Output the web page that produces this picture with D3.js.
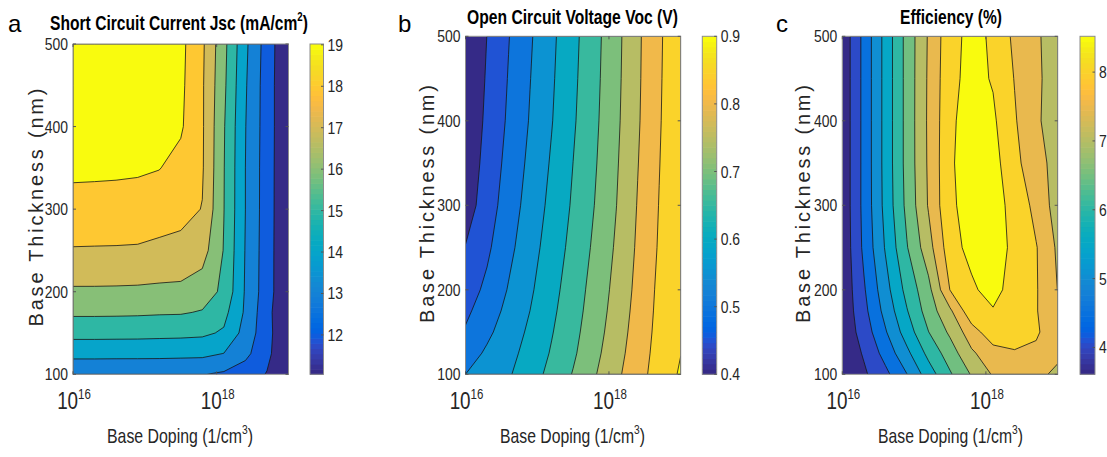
<!DOCTYPE html>
<html>
<head>
<meta charset="utf-8">
<script src="https://cdn.jsdelivr.net/npm/d3@7"></script>
<style>
  html, body { margin: 0; padding: 0; background: #fff; }
  svg { display: block; }
</style>
</head>
<body>
<svg id="fig" width="1107" height="457"></svg>
<script>
// ---------------------------------------------------------------------------
// Simulation grid: base doping (log10 of cm^-3) and base thickness (nm)
// ---------------------------------------------------------------------------
const dopingExp = [16.0, 16.3, 16.6, 16.9, 17.2, 17.5, 17.8, 18.1, 18.4, 18.7, 19.0];
const thickness = [100, 125, 150, 175, 200, 250, 300, 350, 400, 450, 500];

// Short circuit current Jsc (mA/cm^2); rows follow `thickness`, columns follow `dopingExp`
const jsc = [
  [13.10, 13.10, 13.09, 13.08, 13.07, 13.06, 13.04, 12.85, 12.50, 11.95, 11.05],
  [14.31, 14.31, 14.30, 14.30, 14.29, 14.26, 14.23, 13.98, 13.25, 12.25, 11.05],
  [15.31, 15.31, 15.30, 15.29, 15.26, 15.24, 15.18, 14.88, 13.62, 12.34, 11.05],
  [16.17, 16.17, 16.16, 16.14, 16.10, 16.08, 15.93, 15.30, 13.85, 12.30, 11.05],
  [16.86, 16.86, 16.85, 16.83, 16.79, 16.76, 16.49, 15.79, 13.90, 12.44, 11.05],
  [17.94, 17.93, 17.92, 17.90, 17.79, 17.72, 17.40, 15.95, 13.95, 12.45, 11.05],
  [18.61, 18.60, 18.60, 18.57, 18.46, 18.30, 17.97, 16.02, 14.00, 12.47, 11.05],
  [19.22, 19.20, 19.17, 19.13, 19.03, 18.70, 18.10, 16.04, 14.00, 12.48, 11.05],
  [19.25, 19.25, 19.24, 19.22, 19.17, 19.12, 18.12, 16.08, 14.03, 12.50, 11.05],
  [19.28, 19.28, 19.27, 19.25, 19.22, 19.20, 18.12, 16.20, 14.10, 12.50, 11.05],
  [19.30, 19.30, 19.30, 19.30, 19.28, 19.25, 18.17, 16.29, 14.20, 12.55, 11.05]
];

// Open circuit voltage Voc (V)
const voc = [
  [0.550, 0.5725, 0.5949, 0.6278, 0.6645, 0.7029, 0.746, 0.789, 0.8322, 0.8707, 0.906],
  [0.527, 0.5574, 0.5852, 0.6173, 0.6544, 0.6924, 0.7364, 0.7813, 0.8257, 0.8678, 0.899],
  [0.505, 0.540, 0.5742, 0.6089, 0.6468, 0.6857, 0.7288, 0.775, 0.8209, 0.8646, 0.897],
  [0.490, 0.525, 0.5634, 0.6002, 0.640, 0.680, 0.7227, 0.7694, 0.8167, 0.8621, 0.898],
  [0.477, 0.5105, 0.5533, 0.5927, 0.6337, 0.6751, 0.718, 0.7644, 0.813, 0.860, 0.899],
  [0.452, 0.491, 0.5371, 0.5806, 0.6225, 0.665, 0.7086, 0.756, 0.8071, 0.8548, 0.898],
  [0.425, 0.4756, 0.5245, 0.570, 0.6131, 0.6563, 0.7006, 0.7489, 0.8025, 0.8515, 0.897],
  [0.4167, 0.4667, 0.5155, 0.5613, 0.6052, 0.6502, 0.6948, 0.7442, 0.7982, 0.8483, 0.896],
  [0.411, 0.4595, 0.5074, 0.5534, 0.5976, 0.6438, 0.690, 0.7398, 0.7944, 0.8453, 0.895],
  [0.4069, 0.4548, 0.5026, 0.5488, 0.5933, 0.6398, 0.6867, 0.7371, 0.7925, 0.8436, 0.893],
  [0.403, 0.4505, 0.498, 0.5443, 0.5895, 0.6363, 0.684, 0.735, 0.7913, 0.8422, 0.891]
];

// Conversion efficiency (%)
const efficiency = [
  [3.61, 3.92, 4.37, 4.99, 5.75, 6.44, 7.04, 7.55, 7.62, 7.56, 7.45],
  [3.61, 4.05, 4.68, 5.38, 6.14, 6.75, 7.42, 7.81, 7.95, 7.88, 7.55],
  [3.62, 4.22, 4.95, 5.74, 6.49, 7.09, 7.78, 8.30, 8.25, 8.08, 7.62],
  [3.62, 4.35, 5.16, 5.97, 6.73, 7.41, 8.35, 8.45, 8.20, 8.03, 7.60],
  [3.62, 4.44, 5.31, 6.16, 6.85, 8.01, 8.40, 8.73, 8.21, 8.04, 7.49],
  [3.62, 4.60, 5.54, 6.47, 7.30, 8.28, 8.67, 8.70, 8.40, 8.03, 7.42],
  [3.63, 4.64, 5.65, 6.63, 7.54, 8.42, 8.68, 8.60, 8.42, 7.82, 7.30],
  [3.63, 4.64, 5.67, 6.67, 7.57, 8.42, 8.80, 8.68, 8.15, 7.65, 7.35],
  [3.63, 4.64, 5.67, 6.67, 7.58, 8.39, 8.77, 8.58, 8.05, 7.55, 7.33],
  [3.63, 4.64, 5.67, 6.67, 7.57, 8.36, 8.66, 8.46, 7.98, 7.58, 7.29],
  [3.63, 4.64, 5.67, 6.67, 7.55, 8.33, 8.64, 8.43, 7.89, 7.58, 7.22]
];

// Contour levels, colour limits and colourbar ticks
const jscLevels = [12, 13, 14, 15, 16, 17, 18, 19];
const vocLevels = [0.45, 0.50, 0.55, 0.60, 0.65, 0.70, 0.75, 0.80, 0.85, 0.90];
const effLevels = [4.0, 4.5, 5.0, 5.5, 6.0, 6.5, 7.0, 7.5, 8.0, 8.5];
const jscRange = [11.05, 19.02];
const vocRange = [0.40, 0.90];
const effRange = [3.61, 8.52];
const jscTicks = [12, 13, 14, 15, 16, 17, 18, 19];
const vocTicks = [0.4, 0.5, 0.6, 0.7, 0.8, 0.9];
const effTicks = [4, 5, 6, 7, 8];

// Axis ticks
const thicknessTicks = [100, 200, 300, 400, 500];
const dopingTicks = [16, 18];   // exponents of the labelled decades

// Panel texts
const titles = [
  [{ s: "Short Circuit Current Jsc (mA/cm" }, { s: "2", sup: true }, { s: ")" }],
  [{ s: "Open Circuit Voltage Voc (V)" }],
  [{ s: "Efficiency (%)" }]
];
const panelLetters = ["a", "b", "c"];
const yLabel = "Base Thickness (nm)";
const xLabelParts = [{ s: "Base Doping (1/cm" }, { s: "3", sup: true }, { s: ")" }];

// ---------------------------------------------------------------------------
// parula colormap (64 entries)
// ---------------------------------------------------------------------------
const parula = [
  [0.2081,0.1663,0.5292],[0.2116,0.1898,0.5777],[0.2123,0.2138,0.6270],[0.2081,0.2386,0.6771],
  [0.1959,0.2645,0.7279],[0.1707,0.2919,0.7792],[0.1253,0.3242,0.8303],[0.0591,0.3598,0.8683],
  [0.0117,0.3875,0.8820],[0.0060,0.4086,0.8828],[0.0165,0.4266,0.8786],[0.0329,0.4430,0.8720],
  [0.0498,0.4586,0.8641],[0.0629,0.4737,0.8554],[0.0723,0.4887,0.8467],[0.0779,0.5040,0.8384],
  [0.0793,0.5200,0.8312],[0.0749,0.5375,0.8263],[0.0641,0.5570,0.8240],[0.0488,0.5772,0.8228],
  [0.0343,0.5966,0.8199],[0.0265,0.6137,0.8135],[0.0239,0.6287,0.8038],[0.0231,0.6418,0.7913],
  [0.0228,0.6535,0.7768],[0.0267,0.6642,0.7607],[0.0384,0.6743,0.7436],[0.0590,0.6838,0.7254],
  [0.0843,0.6928,0.7062],[0.1133,0.7015,0.6859],[0.1453,0.7098,0.6646],[0.1801,0.7177,0.6424],
  [0.2178,0.7250,0.6193],[0.2586,0.7317,0.5954],[0.3022,0.7376,0.5712],[0.3482,0.7424,0.5473],
  [0.3953,0.7459,0.5244],[0.4420,0.7481,0.5033],[0.4871,0.7491,0.4840],[0.5300,0.7491,0.4661],
  [0.5709,0.7485,0.4494],[0.6099,0.7473,0.4337],[0.6473,0.7456,0.4188],[0.6834,0.7435,0.4044],
  [0.7184,0.7411,0.3905],[0.7525,0.7384,0.3768],[0.7858,0.7356,0.3633],[0.8185,0.7327,0.3498],
  [0.8507,0.7299,0.3360],[0.8824,0.7274,0.3217],[0.9139,0.7258,0.3063],[0.9450,0.7261,0.2886],
  [0.9739,0.7314,0.2666],[0.9938,0.7455,0.2403],[0.9990,0.7653,0.2164],[0.9955,0.7861,0.1967],
  [0.9880,0.8066,0.1794],[0.9789,0.8271,0.1633],[0.9697,0.8481,0.1475],[0.9626,0.8705,0.1309],
  [0.9589,0.8949,0.1132],[0.9598,0.9218,0.0948],[0.9661,0.9514,0.0755],[0.9763,0.9831,0.0538]
];
function parulaAt(t) {
  const i = Math.max(0, Math.min(63, Math.floor(t * 64)));
  const c = parula[i];
  return d3.rgb(c[0] * 255, c[1] * 255, c[2] * 255).formatHex();
}

// ---------------------------------------------------------------------------
// Layout
// ---------------------------------------------------------------------------
const layouts = [
  { plot: { x0: 73, x1: 288.5, y0: 44, y1: 374.3 }, cbar: { x: 310, w: 13.5 },
    title: { cx: 179, y: 30, w: 258 }, letter: { x: 8, y: 32 },
    ylab: { x: 43, cy: 207.5 }, xlab: { cx: 180, y: 443, w: 146 } },
  { plot: { x0: 465.5, x1: 680.7, y0: 36.3, y1: 374.3 }, cbar: { x: 702.3, w: 14.4 },
    title: { cx: 572.5, y: 24, w: 211 }, letter: { x: 398, y: 32 },
    ylab: { x: 434, cy: 204 }, xlab: { cx: 572.5, y: 443, w: 145 } },
  { plot: { x0: 842.3, x1: 1057.7, y0: 36.3, y1: 374.3 }, cbar: { x: 1080, w: 15 },
    title: { cx: 951, y: 24, w: 102 }, letter: { x: 776, y: 32 },
    ylab: { x: 810, cy: 204 }, xlab: { cx: 950.5, y: 443, w: 145 } }
];

const panels = [
  { values: jsc, levels: jscLevels, range: jscRange, ticks: jscTicks, fmt: d3.format("d") },
  { values: voc, levels: vocLevels, range: vocRange, ticks: vocTicks, fmt: d3.format(".1f") },
  { values: efficiency, levels: effLevels, range: effRange, ticks: effTicks, fmt: d3.format("d") }
];

const svg = d3.select("#fig");
const REG = "'Liberation Sans', Arial, Helvetica, sans-serif";
const NARROW = "'Liberation Sans Narrow', 'Arial Narrow', 'Liberation Sans', Arial, sans-serif";
const INK = "#262626";
const AXIS = "#8c8c8c";

// horizontal squeeze so that the narrow face is honoured even on fallback fonts
const probe = svg.append("text").attr("font-family", NARROW).attr("font-size", 100).text("0123456789");
const squeeze = Math.min(1, 456 / probe.node().getComputedTextLength());
probe.remove();

function addText(parent, x, y, parts, o) {
  const g = parent.append("g");
  const t = g.append("text")
    .attr("font-family", o.family || NARROW)
    .attr("font-size", o.size)
    .attr("font-weight", o.weight || "normal")
    .attr("fill", o.color || INK)
    .attr("text-anchor", o.anchor || "start");
  let raised = false;
  parts.forEach(p => {
    const ts = t.append("tspan").text(p.s);
    if (p.sup) { ts.attr("font-size", o.supSize).attr("dy", -o.supRise); raised = true; }
    else if (raised) { ts.attr("dy", o.supRise); raised = false; }
  });
  let k = o.noSqueeze ? 1 : squeeze;
  if (o.width) k = o.width / t.node().getBBox().width;
  g.attr("transform", `translate(${x},${y}) scale(${k},1)`);
  return t;
}

// position inside a (possibly non-uniform) grid from a d3.contours coordinate
function gridAt(c, grid) {
  let s = Math.max(0, Math.min(grid.length - 1, c - 0.5));
  const i = Math.min(grid.length - 2, Math.floor(s));
  return grid[i] + (grid[i + 1] - grid[i]) * (s - i);
}

panels.forEach((p, k) => {
  const L = layouts[k];
  const P = L.plot;
  const x = d3.scaleLog().domain([1e16, 1e19]).range([P.x0, P.x1]);
  const y = d3.scaleLinear().domain([100, 500]).range([P.y1, P.y0]);
  const norm = v => (v - p.range[0]) / (p.range[1] - p.range[0]);
  const color = v => parulaAt(norm(v));

  // filled contours
  const clipId = "plot-clip-" + k;
  svg.append("clipPath").attr("id", clipId)
    .append("rect").attr("x", P.x0).attr("y", P.y0)
    .attr("width", P.x1 - P.x0).attr("height", P.y1 - P.y0);

  const g = svg.append("g").attr("clip-path", `url(#${clipId})`);
  g.append("rect").attr("x", P.x0).attr("y", P.y0)
    .attr("width", P.x1 - P.x0).attr("height", P.y1 - P.y0)
    .attr("fill", color(p.range[0]));

  const nx = dopingExp.length, ny = thickness.length;
  const contours = d3.contours().size([nx, ny]).thresholds(p.levels)(p.values.flat());
  const proj = d3.geoTransform({
    point(cx, cy) {
      this.stream.point(x(Math.pow(10, gridAt(cx, dopingExp))), y(gridAt(cy, thickness)));
    }
  });
  const path = d3.geoPath(proj);
  g.selectAll("path.band").data(contours).join("path")
    .attr("class", "band")
    .attr("d", path)
    .attr("fill", d => color(d.value))
    .attr("stroke", "#161616")
    .attr("stroke-width", 0.8)
    .attr("stroke-linejoin", "round");

  // axes box and inward ticks
  const ax = svg.append("g");
  ax.append("rect").attr("x", P.x0).attr("y", P.y0)
    .attr("width", P.x1 - P.x0).attr("height", P.y1 - P.y0)
    .attr("fill", "none").attr("stroke", AXIS).attr("stroke-width", 1);
  thicknessTicks.forEach(t => {
    const yy = y(t);
    ax.append("line").attr("x1", P.x0).attr("x2", P.x0 + 3).attr("y1", yy).attr("y2", yy).attr("stroke", "#555");
    ax.append("line").attr("x1", P.x1 - 3).attr("x2", P.x1).attr("y1", yy).attr("y2", yy).attr("stroke", "#555");
    addText(svg, P.x0 - 5, yy + 6, [{ s: String(t) }], { size: 17, anchor: "end" });
  });
  dopingTicks.forEach(e => {
    const xx = x(Math.pow(10, e));
    ax.append("line").attr("x1", xx).attr("x2", xx).attr("y1", P.y1 - 3).attr("y2", P.y1).attr("stroke", "#555");
    ax.append("line").attr("x1", xx).attr("x2", xx).attr("y1", P.y0).attr("y2", P.y0 + 3).attr("stroke", "#555");
    addText(svg, xx + 1, 409, [{ s: "10" }, { s: String(e), sup: true }],
      { size: 23, supSize: 14, supRise: 10, anchor: "middle" });
  });

  // colourbar
  const C = L.cbar;
  const cy = d3.scaleLinear().domain(p.range).range([P.y1, P.y0]);
  const cb = svg.append("g");
  const steps = d3.range(64);
  const stepH = (P.y1 - P.y0) / 64;
  cb.selectAll("rect.step").data(steps).join("rect")
    .attr("class", "step")
    .attr("x", C.x).attr("width", C.w)
    .attr("y", i => P.y1 - (i + 1) * stepH)
    .attr("height", stepH + 0.6)
    .attr("fill", i => parulaAt((i + 0.5) / 64));
  cb.append("rect").attr("x", C.x).attr("y", P.y0).attr("width", C.w).attr("height", P.y1 - P.y0)
    .attr("fill", "none").attr("stroke", AXIS).attr("stroke-width", 1);
  p.ticks.forEach(v => {
    const yy = cy(v);
    cb.append("line").attr("x1", C.x + C.w - 2.5).attr("x2", C.x + C.w).attr("y1", yy).attr("y2", yy).attr("stroke", "#555");
    addText(svg, C.x + C.w + 4, yy + 6, [{ s: p.fmt(v) }], { size: 17 });
  });

  // titles and labels
  addText(svg, L.title.cx, L.title.y, titles[k],
    { size: 21, weight: "bold", color: "#000", anchor: "middle", supSize: 13, supRise: 9, width: L.title.w });
  addText(svg, L.letter.x, L.letter.y, [{ s: panelLetters[k] }],
    { size: 24, color: "#000", family: REG, noSqueeze: true });
  addText(svg, L.xlab.cx, L.xlab.y, xLabelParts,
    { size: 20, anchor: "middle", supSize: 13, supRise: 9, width: L.xlab.w });
  svg.append("g").attr("transform", `translate(${L.ylab.x},${L.ylab.cy}) rotate(-90)`)
    .append("text")
    .attr("font-family", REG).attr("font-size", 20).attr("fill", INK)
    .attr("text-anchor", "middle")
    .attr("textLength", 238).attr("lengthAdjust", "spacing")
    .text(yLabel);
});
</script>
</body>
</html>
